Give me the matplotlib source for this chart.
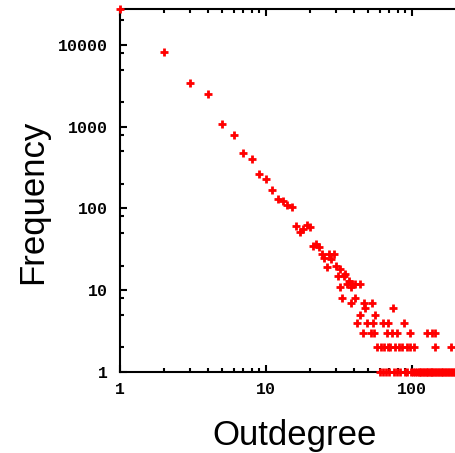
"""
Outdegree distribution
======================

Log-log scatter of node outdegree against how often it occurs,
drawn in the style of an old gnuplot figure.
"""

import matplotlib
matplotlib.use('Agg')
import matplotlib.pyplot as plt

# (outdegree, frequency) pairs
outdegree = [
    1, 2, 3, 4, 5, 6, 7, 8, 9, 10,
    11, 12, 13, 14, 15, 16, 17, 18, 19, 20,
    21, 22, 23, 24, 25, 26, 27, 28, 29,
    30, 31, 32, 32, 34, 35, 36, 37, 38, 39, 41, 44,
    33, 41, 38, 47, 48, 53, 74, 44, 56,
    42, 49, 54, 63, 69, 88,
    46, 52, 55, 67, 73, 79, 97, 127, 136, 144,
    58, 61, 64, 68, 71, 77, 82, 86, 92, 97, 103, 144, 184,
    60, 63, 66, 70, 75, 79, 83, 89, 93, 99, 101, 105,
    108, 111, 113, 116, 118, 121, 124, 126, 129, 132, 135, 138,
    140, 143, 147, 150, 153, 157, 160, 164, 168, 172, 176, 180,
    185, 189, 193, 197,
]
frequency = [
    27500, 8100, 3450, 2550, 1070, 790, 480, 400, 262, 230,
    168, 132, 122, 110, 103, 61, 52, 56, 63, 59,
    35, 37, 34, 28, 25, 19, 28, 24, 28,
    20, 15, 18, 11, 15, 16, 12, 13, 11, 12, 12, 12,
    8, 8, 7, 7, 6, 7, 6, 5, 5,
    4, 4, 4, 4, 4, 4,
    3, 3, 3, 3, 3, 3, 3, 3, 3, 3,
    2, 2, 2, 2, 2, 2, 2, 2, 2, 2, 2, 2, 2,
    1, 1, 1, 1, 1, 1, 1, 1, 1, 1, 1, 1,
    1, 1, 1, 1, 1, 1, 1, 1, 1, 1, 1, 1,
    1, 1, 1, 1, 1, 1, 1, 1, 1, 1, 1, 1,
    1, 1, 1, 1,
]

x_ticks = [1, 10, 100]
x_tick_labels = ['1', '10', '100']
y_ticks = [1, 10, 100, 1000, 10000]
y_tick_labels = ['1', '10', '100', '1000', '10000']

X_MAX = 197.0
Y_MAX = 27560.0


def main():
    W, H = 455, 453
    fig = plt.figure(figsize=(W / 100, H / 100), dpi=100)
    ax = fig.add_axes([120 / W, 81 / H, 335 / W, 363 / H])

    ax.plot(outdegree, frequency, linestyle='none', marker='+',
            markersize=6, markeredgewidth=2.0, color='#ff0000',
            clip_on=False, zorder=3)

    ax.set_xscale('log')
    ax.set_yscale('log')
    ax.set_xlim(1, X_MAX)
    ax.set_ylim(1, Y_MAX)

    # Major ticks with plain labels, gnuplot-ish minor ticks
    ax.set_xticks(x_ticks)
    ax.set_xticklabels(x_tick_labels)
    ax.set_yticks(y_ticks)
    ax.set_yticklabels(y_tick_labels)
    ax.set_xticks([m * d for d in (1, 10, 100) for m in range(2, 10)
                   if m * d < X_MAX], minor=True)
    ax.set_yticks([m * d for d in (1, 10, 100, 1000, 10000)
                   for m in (2, 5, 8) if m * d < Y_MAX], minor=True)
    ax.xaxis.set_minor_formatter(plt.NullFormatter())
    ax.yaxis.set_minor_formatter(plt.NullFormatter())

    for lab in ax.get_xticklabels() + ax.get_yticklabels():
        lab.set_fontfamily('Liberation Mono')
        lab.set_fontweight('bold')
        lab.set_fontsize(12)

    ax.tick_params(axis='x', which='both', direction='in', top=True,
                   bottom=True, pad=7, colors='black')
    ax.tick_params(axis='y', which='both', direction='in', left=True,
                   right=False, pad=9, colors='black')
    ax.tick_params(which='major', length=5, width=1.5)
    ax.tick_params(which='minor', length=3, width=1.5)

    for side in ('left', 'bottom', 'top'):
        ax.spines[side].set_linewidth(1.5)
        ax.spines[side].set_color('black')
    ax.spines['right'].set_visible(False)

    label_font = dict(family='Liberation Sans', size=25, color='black')
    fig.text(295 / W, 1 - 436 / H, 'Outdegree', ha='center', va='center',
             **label_font)
    fig.text(33 / W, 1 - 202 / H, 'Frequency', ha='center', va='center',
             rotation=90, **label_font)

    fig.savefig('out.png', dpi=100, facecolor='white')
    plt.close(fig)


if __name__ == '__main__':
    main()
